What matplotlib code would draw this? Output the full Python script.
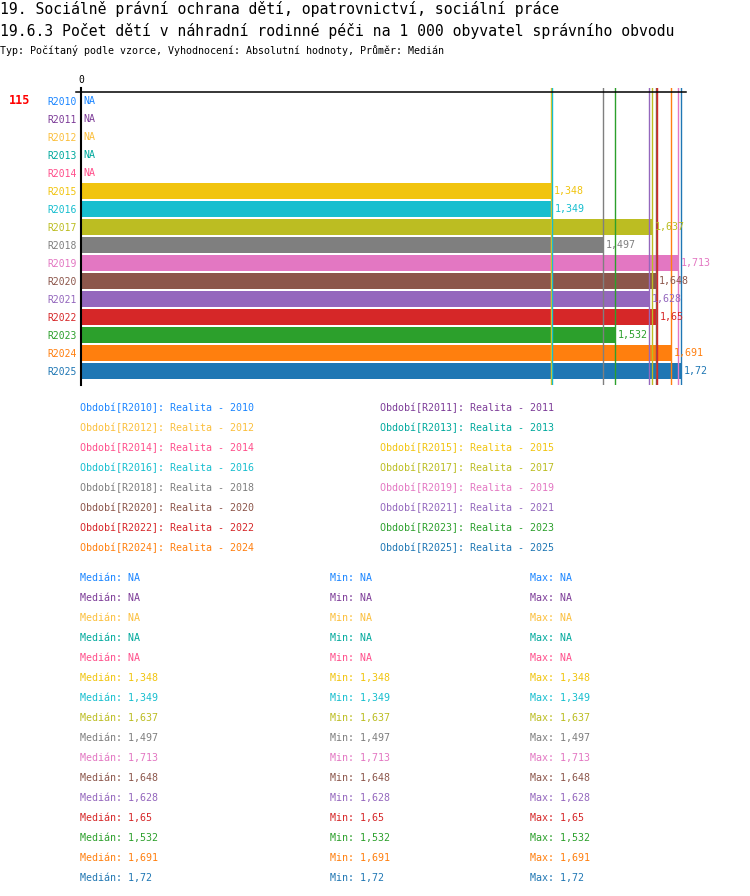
import matplotlib
matplotlib.use("Agg")
import matplotlib.pyplot as plt
import numpy as np

W, H = 750, 896

periods = ["R2010", "R2011", "R2012", "R2013", "R2014", "R2015", "R2016", "R2017",
           "R2018", "R2019", "R2020", "R2021", "R2022", "R2023", "R2024", "R2025"]
years = [p[1:] for p in periods]
values = [None, None, None, None, None, 1.348, 1.349, 1.637,
          1.497, 1.713, 1.648, 1.628, 1.65, 1.532, 1.691, 1.72]
colors = ["#1a85ff", "#7d3c98", "#fbbf3c", "#00a99d", "#ff4f8b", "#f1c40f", "#17becf", "#bcbd22",
          "#7f7f7f", "#e377c2", "#8c564b", "#9467bd", "#d62728", "#2ca02c", "#ff7f0e", "#1f77b4"]

title1 = "19. Sociálně právní ochrana dětí, opatrovnictví, sociální práce"
title2 = "19.6.3 Počet dětí v náhradní rodinné péči na 1 000 obyvatel správního obvodu"
subtitle = "Typ: Počítaný podle vzorce, Vyhodnocení: Absolutní hodnoty, Průměr: Medián"
territory = "115"

plt.rcParams['font.family'] = ['DejaVu Sans Mono', 'DejaVu Sans']


def fmt(v):
    if v is None:
        return "NA"
    return f"{v:g}".replace(".", ",")


def fx(x):
    return x / W


def fy(y):
    return 1 - y / H


fig = plt.figure(figsize=(W / 100, H / 100), dpi=100)

# plot area in pixels
left, right, top, bottom = 81, 686, 88, 385
ax = fig.add_axes([fx(left), fy(bottom), (right - left) / W, (bottom - top) / H])

px_per_unit = 348.8
row_h = 18.0
ax.set_xlim(0, (right - left) / px_per_unit)
ax.set_ylim((bottom - 101.3) / row_h, (top - 101.3) / row_h)

ypos = np.arange(len(periods))
for i, v in enumerate(values):
    if v is not None:
        ax.barh(ypos[i], v, height=16 / row_h, color=colors[i], zorder=2)
for i, v in enumerate(values):
    if v is not None:
        ax.axvline(v, color=colors[i], lw=1, zorder=3)
for i, v in enumerate(values):
    xv = 0 if v is None else v
    ax.annotate(fmt(v), (xv, ypos[i]), xytext=(2, 0), textcoords="offset points",
                va="center", ha="left", fontsize=7.2, color=colors[i], zorder=4)

# top axis line, slightly past the left spine
ax.plot([-5 / px_per_unit, ax.get_xlim()[1]], [-0.5, -0.5], color="black", lw=1.1,
        zorder=5, clip_on=False)
for s in ["top", "right", "bottom"]:
    ax.spines[s].set_visible(False)
ax.spines["left"].set_linewidth(1.5)
ax.spines["left"].set_zorder(6)

ax.xaxis.tick_top()
ax.set_xticks([0])
ax.set_xticklabels(["0"], fontsize=7)
ax.tick_params(axis="x", length=0, pad=2)
ax.set_yticks(ypos)
ax.set_yticklabels(periods, fontsize=7)
ax.tick_params(axis="y", length=0, pad=3)
for lbl, c in zip(ax.get_yticklabels(), colors):
    lbl.set_color(c)

fig.text(fx(0), fy(9), title1, fontsize=10.6, va="center", ha="left")
fig.text(fx(0), fy(31), title2, fontsize=10.6, va="center", ha="left")
fig.text(fx(0), fy(51), subtitle, fontsize=7.2, va="center", ha="left")
fig.text(fx(9), fy(101), territory, fontsize=8.5, fontweight="bold", color="red",
         va="center", ha="left")

# legend
for i, (p, yr) in enumerate(zip(periods, years)):
    col, row = i % 2, i // 2
    fig.text(fx(80 + col * 300), fy(408 + row * 20), f"Období[{p}]: Realita - {yr}",
             fontsize=7.2, color=colors[i], va="center", ha="left")

# statistics
for i, v in enumerate(values):
    y = fy(578 + i * 20)
    fig.text(fx(80), y, f"Medián: {fmt(v)}", fontsize=7.2, color=colors[i], va="center")
    fig.text(fx(330), y, f"Min: {fmt(v)}", fontsize=7.2, color=colors[i], va="center")
    fig.text(fx(530), y, f"Max: {fmt(v)}", fontsize=7.2, color=colors[i], va="center")

fig.savefig("out.png", dpi=100)
